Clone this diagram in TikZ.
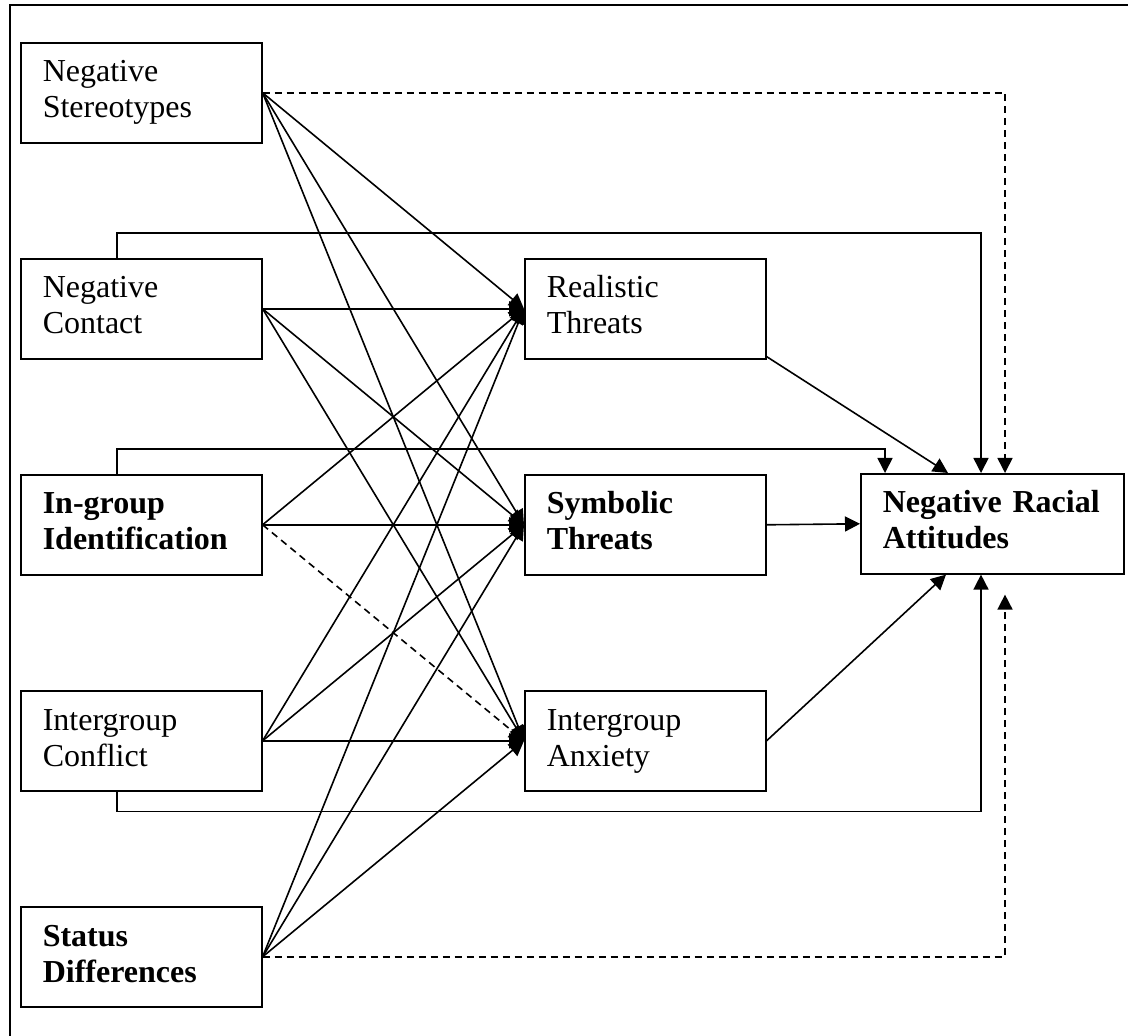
\documentclass[tikz,border=0pt]{standalone}
\usepackage{fontspec}
\setmainfont{Liberation Serif}
\usepackage{tikz}
\usetikzlibrary{calc,arrows.meta}

\begin{document}
\begin{tikzpicture}[x=0.5pt, y=-0.5pt, line width=0.8pt,
		box/.style={draw, anchor=north west, align=left, minimum width=120.5pt, minimum height=50pt,
			text width=98.5pt, inner xsep=11pt, font=\fontsize{16}{18}\selectfont,
			execute at begin node=\strut, execute at end node=\strut},
		wide/.style={box, minimum width=131.5pt, text width=109.5pt},
		arr/.style={-{Triangle[length=7.5pt, width=7.5pt]}},
		dsh/.style={arr, dash pattern=on 3.5pt off 2.5pt}]
		%%%%% START %%%%%
		
		\useasboundingbox (0, 0) rectangle (1128, 1036);
		\draw[line width=1pt] (10, 1036) -- (10, 5) -- (1128, 5);
		
		% left column
		\node[box] (ns) at (20, 42) {Negative\\Stereotypes};
		\node[box] (nc) at (20, 258) {Negative\\Contact};
		\node[box] (ig) at (20, 474) {\bfseries In-group\\\bfseries Identification};
		\node[box] (ic) at (20, 690) {Intergroup\\Conflict};
		\node[box] (sd) at (20, 906) {\bfseries Status\\\bfseries Differences};
		
		% threats
		\node[box] (rt) at (524, 258) {Realistic\\Threats};
		\node[box] (st) at (524, 474) {\bfseries Symbolic\\\bfseries Threats};
		\node[box] (ia) at (524, 690) {Intergroup\\Anxiety};
		
		\node[wide] (nra) at (860, 473) {\bfseries Negative Racial\\\bfseries Attitudes};
		
		% left column to threats
		\foreach \s in {ns, nc, ic, sd} {
			\draw[arr] (\s.east) -- (rt.west);
			\draw[arr] (\s.east) -- (st.west);
			\draw[arr] (\s.east) -- (ia.west);
		}
		\draw[arr] (ig.east) -- (rt.west);
		\draw[arr] (ig.east) -- (st.west);
		\draw[dsh] (ig.east) -- (ia.west);
		
		% threats to attitudes
		\draw[arr] ($(rt.south east)+(0,-3)$) -- ($(nra.north west)+(88,0)$);
		\draw[arr] (st.east) -- (nra.west);
		\draw[arr] (ia.east) -- ($(nra.south west)+(86,0)$);
		
		% direct paths
		\draw[arr] ($(nc.north west)+(97,0)$) -- ++(0,-25) -| ($(nra.north west)+(121,0)$);
		\draw[arr] ($(ig.north west)+(97,0)$) -- ++(0,-25) -| ($(nra.north west)+(25,0)$);
		\draw[arr] ($(ic.south west)+(97,0)$) -- ++(0,20) -| ($(nra.south west)+(121,0)$);
		\draw[dsh] (ns.east) -| ($(nra.north west)+(145,0)$);
		\draw[dsh] (sd.east) -| ($(nra.south west)+(145,20)$);
		
		%%%%% END %%%%%
	\end{tikzpicture}
\end{document}
